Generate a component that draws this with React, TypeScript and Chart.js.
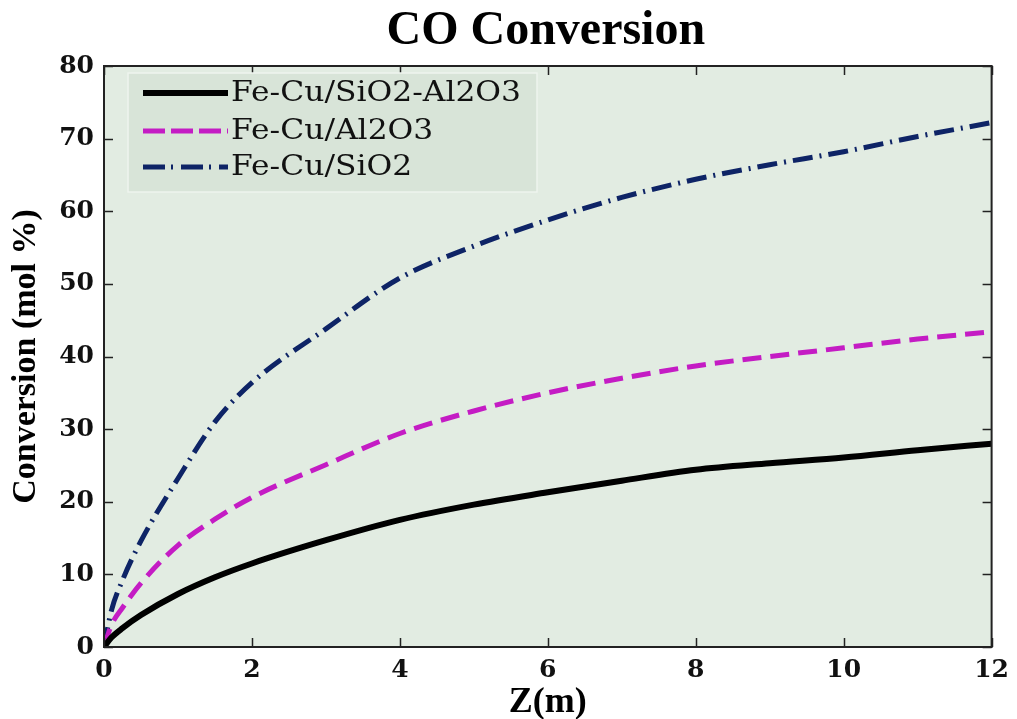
import React, { useEffect, useRef } from "react";
import { Chart, registerables } from "chart.js";

Chart.register(...registerables);

// Reactor length positions (m)
const zPositions = [0, 0.1, 0.25, 0.5, 1, 1.5, 2, 3, 4, 5, 6, 7, 8, 9, 10, 11, 12];

// CO conversion (mol %) for each catalyst
const convSiO2Al2O3 = [0, 1.3, 2.6, 4.4, 7.3, 9.6, 11.5, 14.7, 17.5, 19.6, 21.3, 22.9, 24.4, 25.3, 26.1, 27.1, 28.0];
const convAl2O3 = [0, 3.0, 5.4, 8.8, 14.0, 17.6, 20.6, 25.1, 29.4, 32.5, 35.0, 37.0, 38.7, 40.0, 41.2, 42.4, 43.4];
const convSiO2 = [0, 5.0, 9.2, 14.6, 23.2, 31.0, 36.4, 43.8, 50.8, 55.2, 58.8, 61.9, 64.4, 66.4, 68.2, 70.3, 72.2];

const seriesLabels = ["Fe-Cu/SiO2-Al2O3", "Fe-Cu/Al2O3", "Fe-Cu/SiO2"];
const seriesColors = ["#000000", "#c41cc4", "#0e2466"];

const xTickValues = [0, 2, 4, 6, 8, 10, 12];
const yTickValues = [0, 10, 20, 30, 40, 50, 60, 70, 80];

const chartTitle = "CO Conversion";
const xTitle = "Z(m)";
const yTitle = "Conversion (mol %)";

const PLOT_BG = "#e2ece2";
const LEGEND_BG = "#d8e4d8";

const lineStyles = [
  { width: 6, dash: [] as number[], legendDash: [] as number[] },
  { width: 5, dash: [19, 9], legendDash: [22, 6] },
  { width: 5, dash: [20, 7, 2, 7], legendDash: [22, 6, 2, 8] },
];

const decorPlugin = {
  id: "decor",
  beforeDraw(chart: any) {
    const { ctx, chartArea: a } = chart;
    ctx.save();
    ctx.fillStyle = "#ffffff";
    ctx.fillRect(0, 0, chart.width, chart.height);
    ctx.fillStyle = PLOT_BG;
    ctx.fillRect(a.left, a.top, a.right - a.left, a.bottom - a.top);
    // title
    ctx.fillStyle = "#000";
    ctx.font = 'bold 48px "Liberation Serif"';
    ctx.textAlign = "center";
    ctx.textBaseline = "alphabetic";
    ctx.fillText(chartTitle, (a.left + a.right) / 2 - 2, 44);
    ctx.restore();
  },
  afterDatasetsDraw(chart: any) {
    const { ctx, chartArea: a, scales } = chart;
    const xs = scales.x;
    const ys = scales.y;
    ctx.save();
    // inward tick marks on all four sides
    ctx.strokeStyle = "#222";
    ctx.lineWidth = 1.5;
    const tl = 9;
    ctx.beginPath();
    xTickValues.forEach((v) => {
      const px = Math.round(xs.getPixelForValue(v)) + 0.5;
      ctx.moveTo(px, a.bottom);
      ctx.lineTo(px, a.bottom - tl);
      ctx.moveTo(px, a.top);
      ctx.lineTo(px, a.top + tl);
    });
    yTickValues.forEach((v) => {
      const py = Math.round(ys.getPixelForValue(v)) + 0.5;
      ctx.moveTo(a.left, py);
      ctx.lineTo(a.left + tl, py);
      ctx.moveTo(a.right, py);
      ctx.lineTo(a.right - tl, py);
    });
    ctx.stroke();
    // frame
    ctx.lineWidth = 2;
    ctx.strokeStyle = "#222";
    ctx.strokeRect(a.left, a.top, a.right - a.left, a.bottom - a.top);

    // legend
    const bx = 128, by = 73, bw = 409, bh = 119;
    ctx.fillStyle = LEGEND_BG;
    ctx.fillRect(bx, by, bw, bh);
    ctx.strokeStyle = "#eef4ee";
    ctx.lineWidth = 1.5;
    ctx.strokeRect(bx, by, bw, bh);
    const rows = [93, 131, 167];
    chart.data.datasets.forEach((ds: any, i: number) => {
      const y = rows[i];
      ctx.beginPath();
      ctx.setLineDash(lineStyles[i].legendDash);
      ctx.strokeStyle = ds.borderColor;
      ctx.lineWidth = ds.borderWidth;
      ctx.lineCap = "butt";
      ctx.moveTo(143, y);
      ctx.lineTo(228, y);
      ctx.stroke();
      ctx.setLineDash([]);
      ctx.save();
      ctx.translate(231, y + 1);
      ctx.scale(1.12, 1);
      ctx.fillStyle = "#111";
      ctx.font = '28px "DejaVu Serif"';
      ctx.textAlign = "left";
      ctx.textBaseline = "middle";
      ctx.fillText(ds.label, 0, 0);
      ctx.restore();
    });
    ctx.restore();
  },
};

export default function App() {
  const canvasRef = useRef<HTMLCanvasElement | null>(null);

  useEffect(() => {
    const canvas = canvasRef.current;
    if (!canvas) return;
    const series = [convSiO2Al2O3, convAl2O3, convSiO2];
    const chart = new Chart(canvas, {
      type: "line",
      data: {
        datasets: series.map((vals, i) => ({
          label: seriesLabels[i],
          data: zPositions.map((z, j) => ({ x: z, y: vals[j] })),
          borderColor: seriesColors[i],
          backgroundColor: seriesColors[i],
          borderWidth: lineStyles[i].width,
          borderDash: lineStyles[i].dash,
          borderCapStyle: "butt",
          pointRadius: 0,
          cubicInterpolationMode: "monotone",
          fill: false,
        })),
      },
      options: {
        animation: false,
        responsive: false,
        maintainAspectRatio: false,
        layout: { padding: { top: 66, right: 19, left: 0, bottom: 0 } },
        plugins: {
          legend: { display: false },
          tooltip: { enabled: false },
          title: { display: false },
        },
        scales: {
          x: {
            type: "linear",
            min: 0,
            max: 12,
            grid: { display: false, drawTicks: false },
            border: { display: false },
            afterBuildTicks: (s: any) => {
              s.ticks = xTickValues.map((v) => ({ value: v }));
            },
            afterFit: (s: any) => {
              s.height = 72;
            },
            ticks: {
              autoSkip: false,
              maxRotation: 0,
              padding: 8,
              color: "#111",
              font: { family: '"DejaVu Serif"', size: 25, weight: "bold" },
            },
            title: {
              display: true,
              text: xTitle,
              color: "#000",
              padding: { top: 0, bottom: 0 },
              font: { family: '"Liberation Serif"', size: 36, weight: "bold", lineHeight: 0.9 },
            },
          },
          y: {
            type: "linear",
            min: 0,
            max: 80,
            grid: { display: false, drawTicks: false },
            border: { display: false },
            afterBuildTicks: (s: any) => {
              s.ticks = yTickValues.map((v) => ({ value: v }));
            },
            afterFit: (s: any) => {
              s.width = 104;
            },
            ticks: {
              autoSkip: false,
              padding: 10,
              color: "#111",
              font: { family: '"DejaVu Serif"', size: 25, weight: "bold" },
            },
            title: {
              display: true,
              text: yTitle,
              color: "#000",
              padding: { top: 9, bottom: 0 },
              font: { family: '"Liberation Serif"', size: 34, weight: "bold", lineHeight: 1 },
            },
          },
        },
      },
      plugins: [decorPlugin],
    } as any);
    return () => chart.destroy();
  }, []);

  return (
    <canvas
      ref={canvasRef}
      width={1017}
      height={719}
      style={{ position: "fixed", left: 0, top: 0, width: 1017, height: 719 }}
    />
  );
}
